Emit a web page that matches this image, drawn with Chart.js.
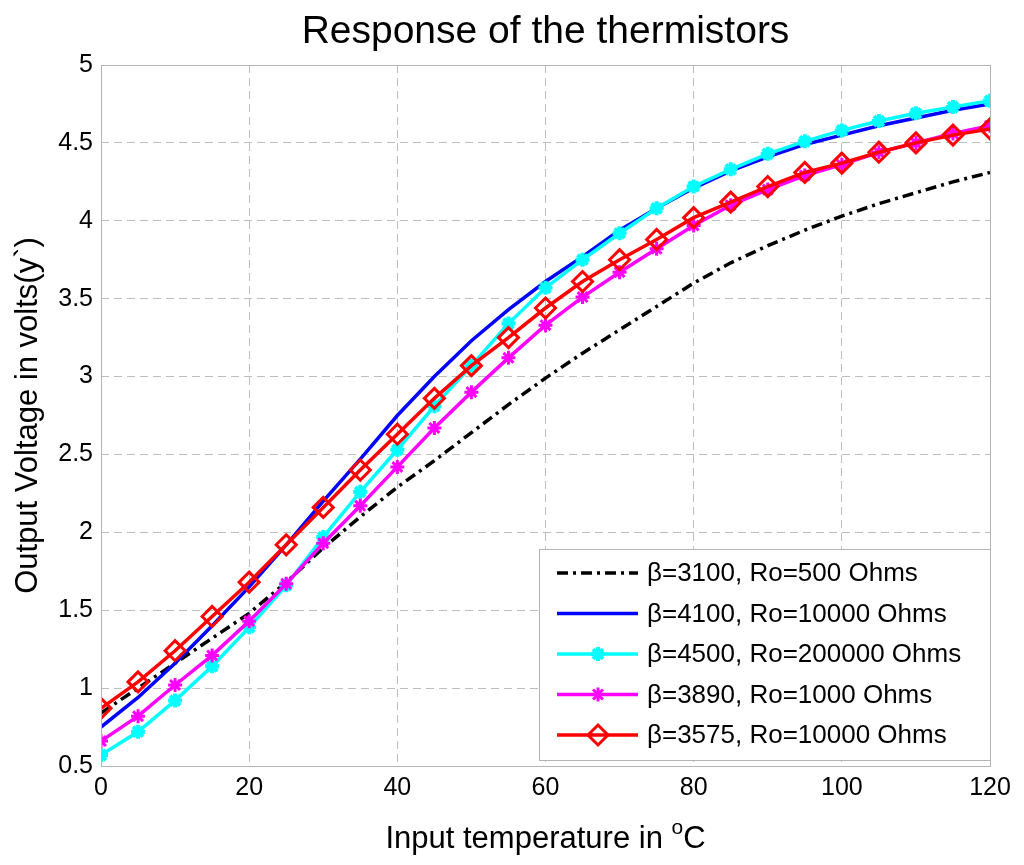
<!DOCTYPE html>
<html>
<head>
<meta charset="utf-8">
<script src="https://cdn.jsdelivr.net/npm/chart.js@4/dist/chart.umd.min.js"></script>
<style>
  html, body { margin: 0; padding: 0; background: #fff; }
  #wrap { width: 1024px; height: 865px; position: relative; }
</style>
</head>
<body>
<div id="wrap"><canvas id="thermChart"></canvas></div>
<script>
// input temperature (deg C)
const temps = [0, 5, 10, 15, 20, 25, 30, 35, 40, 45, 50, 55, 60, 65, 70, 75, 80, 85, 90, 95, 100, 105, 110, 115, 120];

// output voltage for each thermistor
const beta3100 = [0.84, 1.00, 1.16, 1.32, 1.48, 1.68, 1.90, 2.10, 2.29, 2.46, 2.64, 2.82, 2.99, 3.15, 3.30, 3.45, 3.60, 3.73, 3.84, 3.94, 4.03, 4.11, 4.18, 4.25, 4.31];
const beta4100 = [0.75, 0.94, 1.16, 1.40, 1.65, 1.92, 2.20, 2.47, 2.75, 3.00, 3.23, 3.43, 3.61, 3.77, 3.94, 4.08, 4.21, 4.32, 4.41, 4.49, 4.55, 4.61, 4.66, 4.71, 4.75];
const beta4500 = [0.57, 0.72, 0.92, 1.14, 1.39, 1.66, 1.97, 2.26, 2.53, 2.81, 3.07, 3.34, 3.57, 3.75, 3.92, 4.08, 4.22, 4.33, 4.43, 4.51, 4.58, 4.64, 4.69, 4.73, 4.77];
const beta3890 = [0.66, 0.82, 1.02, 1.21, 1.43, 1.67, 1.93, 2.17, 2.42, 2.67, 2.90, 3.12, 3.33, 3.51, 3.67, 3.82, 3.97, 4.10, 4.20, 4.29, 4.36, 4.44, 4.50, 4.56, 4.61];
const beta3575 = [0.87, 1.04, 1.24, 1.46, 1.68, 1.92, 2.16, 2.40, 2.63, 2.86, 3.07, 3.25, 3.44, 3.61, 3.75, 3.88, 4.02, 4.12, 4.22, 4.31, 4.37, 4.44, 4.50, 4.55, 4.59];

const seriesLabels = [
	'\u03b2=3100, Ro=500 Ohms',
	'\u03b2=4100, Ro=10000 Ohms',
	'\u03b2=4500, Ro=200000 Ohms',
	'\u03b2=3890, Ro=1000 Ohms',
	'\u03b2=3575, Ro=10000 Ohms'
];

const xTicks = [0, 20, 40, 60, 80, 100, 120];
const yTicks = [0.5, 1, 1.5, 2, 2.5, 3, 3.5, 4, 4.5, 5];

const fontFamily = '"Liberation Sans", Arial, Helvetica, sans-serif';
Chart.defaults.font.family = fontFamily;
Chart.defaults.color = '#000';

function points(vals) {
	return temps.map((t, i) => ({ x: t, y: vals[i] }));
}

// grey box round the plot area
const frameBox = {
	id: 'frameBox',
	afterDatasetsDraw(chart) {
		const { ctx, chartArea: { left, right, top, bottom } } = chart;
		ctx.save();
		ctx.strokeStyle = '#b4b4b4';
		ctx.lineWidth = 1;
		ctx.strokeRect(left + 0.5, top + 0.5, right - left, bottom - top);
		ctx.restore();
	}
};

// title centred on the plot, x axis title with the raised "o"
const textBits = {
	id: 'textBits',
	afterDraw(chart) {
		const { ctx, chartArea: { left, right } } = chart;
		const cx = (left + right) / 2;
		ctx.save();
		ctx.fillStyle = '#000';
		ctx.textBaseline = 'alphabetic';

		ctx.font = '39px ' + fontFamily;
		ctx.textAlign = 'center';
		ctx.fillText('Response of the thermistors', cx, 43);

		ctx.textAlign = 'left';
		const main = 'Input temperature in ';
		ctx.font = '31px ' + fontFamily;
		const w1 = ctx.measureText(main).width;
		const w3 = ctx.measureText('C').width;
		ctx.font = '21px ' + fontFamily;
		const w2 = ctx.measureText('o').width;
		let x = cx - (w1 + w2 + w3) / 2;
		const base = 848;
		ctx.font = '31px ' + fontFamily;
		ctx.fillText(main, x, base);
		x += w1;
		ctx.font = '21px ' + fontFamily;
		ctx.fillText('o', x, base - 14);
		x += w2;
		ctx.font = '31px ' + fontFamily;
		ctx.fillText('C', x, base);
		ctx.restore();
	}
};

// legend box in the lower right corner
const boxLegend = {
	id: 'boxLegend',
	afterDraw(chart) {
		const { ctx } = chart;
		const bx = 539, by = 549, bw = 451, bh = 211;
		ctx.save();
		ctx.fillStyle = '#fff';
		ctx.fillRect(bx, by, bw, bh);
		ctx.strokeStyle = '#b4b4b4';
		ctx.lineWidth = 1;
		ctx.strokeRect(bx + 0.5, by + 0.5, bw, bh);

		chart.data.datasets.forEach((ds, i) => {
			const y = 573 + i * 40.5;
			ctx.save();
			ctx.strokeStyle = ds.borderColor;
			ctx.lineWidth = ds.borderWidth;
			ctx.setLineDash(ds.borderDash || []);
			ctx.beginPath();
			ctx.moveTo(557, y);
			ctx.lineTo(638, y);
			ctx.stroke();
			ctx.restore();
			if (ds.pointRadius > 0) {
				ctx.save();
				ctx.strokeStyle = ds.pointBorderColor;
				ctx.fillStyle = ds.pointBackgroundColor;
				ctx.lineWidth = ds.pointBorderWidth;
				Chart.helpers.drawPoint(ctx, {
					pointStyle: ds.pointStyle,
					radius: ds.pointRadius,
					borderWidth: ds.pointBorderWidth,
					rotation: 0
				}, 598, y);
				ctx.restore();
			}
			ctx.fillStyle = '#000';
			ctx.font = '26px ' + fontFamily;
			ctx.textBaseline = 'middle';
			ctx.fillText(seriesLabels[i], 647, y + 1);
		});
		ctx.restore();
	}
};

function thermChartConfig() {
	const canvas = document.getElementById('thermChart');
	if (!canvas) return;
	const ctx = canvas.getContext('2d');

	new Chart(ctx, {
		type: 'line',
		data: {
			datasets: [{
				label: seriesLabels[0],
				data: points(beta3100),
				borderColor: '#000000',
				borderWidth: 3.5,
				borderDash: [11, 5, 3, 5],
				pointRadius: 0,
				order: 5
			},
			{
				label: seriesLabels[1],
				data: points(beta4100),
				borderColor: '#0000ff',
				borderWidth: 3.5,
				pointRadius: 0,
				order: 4
			},
			{
				label: seriesLabels[2],
				data: points(beta4500),
				borderColor: '#00ffff',
				borderWidth: 3.5,
				pointStyle: 'star',
				pointRadius: 7,
				pointBorderWidth: 4,
				pointBorderColor: '#00ffff',
				pointBackgroundColor: '#00ffff',
				order: 3
			},
			{
				label: seriesLabels[3],
				data: points(beta3890),
				borderColor: '#ff00ff',
				borderWidth: 3.5,
				pointStyle: 'star',
				pointRadius: 7,
				pointBorderWidth: 3,
				pointBorderColor: '#ff00ff',
				pointBackgroundColor: '#ff00ff',
				order: 2
			},
			{
				label: seriesLabels[4],
				data: points(beta3575),
				borderColor: '#ff0000',
				borderWidth: 3.5,
				pointStyle: 'rectRot',
				pointRadius: 10,
				pointBorderWidth: 3,
				pointBorderColor: '#ff0000',
				pointBackgroundColor: 'rgba(0,0,0,0)',
				order: 1
			}]
		},
		options: {
			responsive: true,
			maintainAspectRatio: false,
			animation: false,
			devicePixelRatio: 1,
			layout: {
				padding: { top: 65, right: 34, bottom: 0, left: 0 }
			},
			elements: {
				line: { tension: 0, borderCapStyle: 'butt' }
			},
			plugins: {
				legend: { display: false },
				tooltip: { enabled: false },
				title: { display: false }
			},
			scales: {
				x: {
					type: 'linear',
					min: 0,
					max: 120,
					afterBuildTicks: scale => { scale.ticks = xTicks.map(v => ({ value: v })); },
					afterFit: scale => { scale.height = 99; },
					grid: {
						color: '#bdbdbd',
						lineWidth: 1,
						drawTicks: false
					},
					border: { display: false, dash: [8, 5] },
					ticks: {
						color: '#000',
						font: { size: 25 },
						padding: 7,
						maxRotation: 0,
						callback: v => String(v)
					}
				},
				y: {
					min: 0.5,
					max: 5,
					afterBuildTicks: scale => { scale.ticks = yTicks.map(v => ({ value: v })); },
					afterFit: scale => { scale.width = 101; },
					grid: {
						color: '#bdbdbd',
						lineWidth: 1,
						drawTicks: false
					},
					border: { display: false, dash: [8, 5] },
					ticks: {
						color: '#000',
						font: { size: 25 },
						padding: 8,
						callback: v => String(v)
					},
					title: {
						display: true,
						text: 'Output Voltage in volts(y`)',
						color: '#000',
						font: { size: 31 },
						padding: { top: 10, bottom: 0 }
					}
				}
			}
		},
		plugins: [frameBox, textBits, boxLegend]
	});
}
document.addEventListener('DOMContentLoaded', thermChartConfig);
</script>
</body>
</html>
